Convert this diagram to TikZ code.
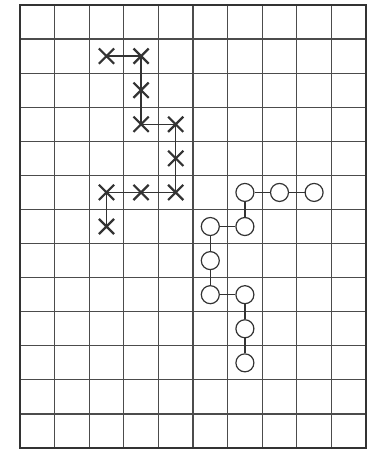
\documentclass[tikz,border=0pt]{standalone}
\usetikzlibrary{shapes.misc}
\begin{document}
\begin{tikzpicture}[x=1pt,y=-1pt,
  gridline/.style={draw=black!70,line width=1.2pt},
  frameline/.style={draw=black!80,line width=1.8pt},
  xmark/.style={cross out,draw=black!80,line width=2.2pt,minimum size=13pt,inner sep=0pt},
  omark/.style={circle,draw=black!80,line width=1.2pt,fill=white,minimum size=18pt,inner sep=0pt},
  link/.style={draw=black!80,line width=1.5pt}]
\useasboundingbox (0,0) rectangle (374,453);
% grid
\foreach \i in {1,...,9} \draw[gridline] ({20+34.6*\i},5) -- ({20+34.6*\i},448);
\foreach \j in {1,...,12} \draw[gridline] (20,{5+34.08*\j}) -- (366,{5+34.08*\j});
\draw[frameline] (20,5) rectangle (366,448);
% cell centres
\def\cx#1{{20+34.6*(#1+0.5)}}
\def\cy#1{{5+34.08*(#1+0.5)}}
% crosses
\node[xmark] (x1) at (\cx{2},\cy{1}) {};
\node[xmark] (x2) at (\cx{3},\cy{1}) {};
\node[xmark] (x3) at (\cx{3},\cy{2}) {};
\node[xmark] (x4) at (\cx{3},\cy{3}) {};
\node[xmark] (x5) at (\cx{4},\cy{3}) {};
\node[xmark] (x6) at (\cx{4},\cy{4}) {};
\node[xmark] (x7) at (\cx{4},\cy{5}) {};
\node[xmark] (x8) at (\cx{3},\cy{5}) {};
\node[xmark] (x9) at (\cx{2},\cy{5}) {};
\node[xmark] (x10) at (\cx{2},\cy{6}) {};
\draw[link] (x1.center) -- (x2.center) -- (x3.center) -- (x4.center) -- (x5.center) -- (x6.center) -- (x7.center) -- (x8.center) -- (x9.center) -- (x10.center);
% circles
\node[omark] (o1) at (\cx{8},\cy{5}) {};
\node[omark] (o2) at (\cx{7},\cy{5}) {};
\node[omark] (o3) at (\cx{6},\cy{5}) {};
\node[omark] (o4) at (\cx{6},\cy{6}) {};
\node[omark] (o5) at (\cx{5},\cy{6}) {};
\node[omark] (o6) at (\cx{5},\cy{7}) {};
\node[omark] (o7) at (\cx{5},\cy{8}) {};
\node[omark] (o8) at (\cx{6},\cy{8}) {};
\node[omark] (o9) at (\cx{6},\cy{9}) {};
\node[omark] (o10) at (\cx{6},\cy{10}) {};
\draw[link] (o1) -- (o2);
\draw[link] (o2) -- (o3);
\draw[link] (o3) -- (o4);
\draw[link] (o4) -- (o5);
\draw[link] (o5) -- (o6);
\draw[link] (o6) -- (o7);
\draw[link] (o7) -- (o8);
\draw[link] (o8) -- (o9);
\draw[link] (o9) -- (o10);
\end{tikzpicture}
\end{document}
